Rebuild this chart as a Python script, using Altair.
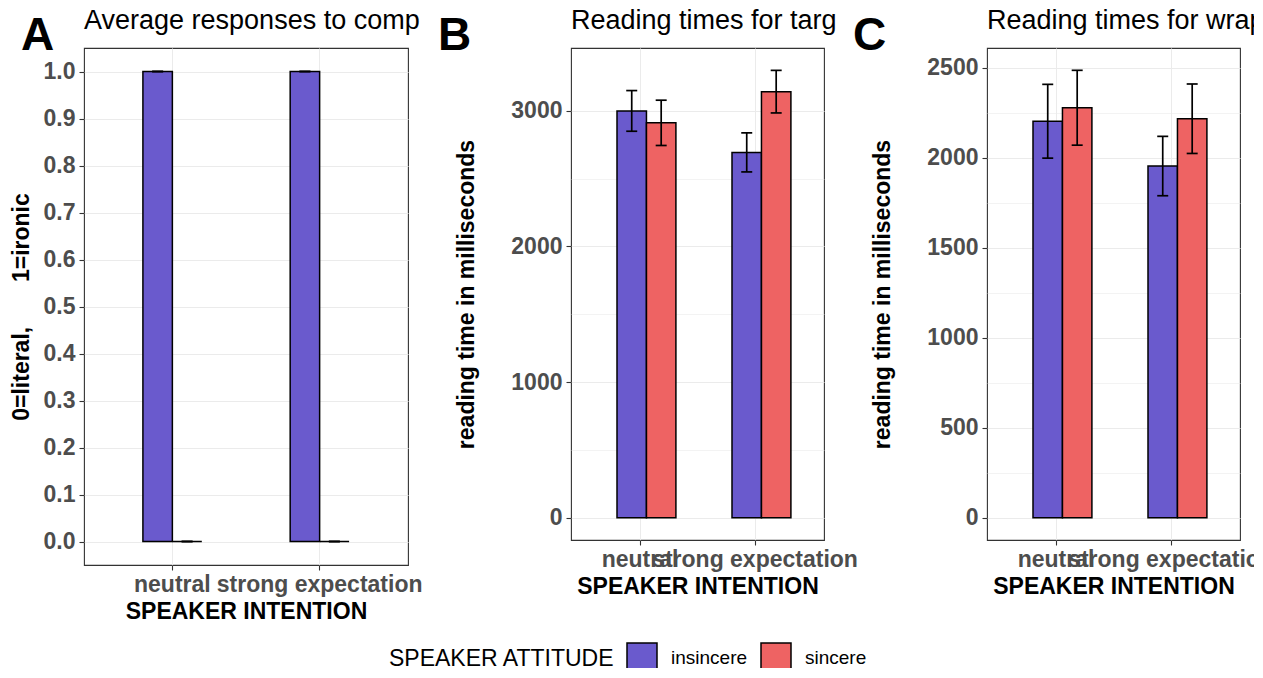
import altair as alt
import pandas as pd

intentions = ["neutral", "strong expectation"]
attitudes = ["insincere", "sincere"]
fill_colors = ["#6A5ACD", "#EE6363"]

# order: neutral/insincere, neutral/sincere, strong/insincere, strong/sincere
a_means = [1.0, 0.0, 1.0, 0.0]
a_errs = [0.0, 0.0, 0.0, 0.0]
b_means = [3000, 2912, 2694, 3142]
b_errs = [150, 167, 144, 157]
c_means = [2203, 2278, 1954, 2217]
c_errs = [205, 208, 165, 193]

a_ticks = [round(i * 0.05, 2) for i in range(21)]
b_ticks = [0, 500, 1000, 1500, 2000, 2500, 3000]
c_ticks = [0, 250, 500, 750, 1000, 1250, 1500, 1750, 2000, 2250, 2500]

FONT = "Liberation Sans"
NB = "\u00a0"


def frame(means, errs):
    rows = []
    i = 0
    for it in intentions:
        for at in attitudes:
            rows.append(dict(intention=it, attitude=at, mean=means[i],
                             lo=means[i] - errs[i], hi=means[i] + errs[i]))
            i += 1
    return pd.DataFrame(rows)


def panel(df, letter, title, ytitle, domain, yvals, major_test, fmt,
          w, h, ytitle_pad, letter_x):
    minor_test = "!(" + major_test + ")"
    x = alt.X("intention:N", sort=intentions, title="SPEAKER INTENTION",
              scale=alt.Scale(paddingInner=0.6, paddingOuter=0.4),
              axis=alt.Axis(labelAngle=0, bandPosition=0.5, labelOverlap=False,
                            labelLimit=0, grid=True, labelPadding=3, titlePadding=4))
    xoff = alt.XOffset("attitude:N", sort=attitudes,
                       scale=alt.Scale(paddingInner=0, paddingOuter=0))
    yaxis = alt.Axis(values=yvals, format=fmt,
                     labelExpr="(" + major_test + ") ? datum.label : ''",
                     tickOpacity={"condition": {"test": minor_test, "value": 0}, "value": 1},
                     gridWidth={"condition": {"test": minor_test, "value": 0.6}, "value": 1.1},
                     titlePadding=ytitle_pad, labelPadding=4)
    yscale = alt.Scale(domain=domain, nice=False)
    color = alt.Color("attitude:N", sort=attitudes,
                      scale=alt.Scale(domain=attitudes, range=fill_colors),
                      legend=alt.Legend(orient="none", legendX=305, legendY=594,
                                        direction="horizontal", title="SPEAKER ATTITUDE",
                                        titleOrient="left", titleFontSize=23,
                                        titleFontWeight="normal", titleFont=FONT,
                                        titleColor="black", titleBaseline="middle",
                                        titlePadding=11, titleLimit=0,
                                        symbolType="square", symbolSize=900,
                                        symbolStrokeColor="black", symbolStrokeWidth=1.5,
                                        symbolOpacity=1, labelLimit=0,
                                        labelFontSize=19, labelFont=FONT, labelColor="black",
                                        labelOffset=13, columnPadding=10))
    bars = alt.Chart(df).mark_bar(stroke="black", strokeWidth=1.5, opacity=1).encode(
        x=x, xOffset=xoff,
        y=alt.Y("mean:Q", scale=yscale, axis=yaxis, title=ytitle),
        y2=alt.datum(0),
        color=color,
    )
    rules = alt.Chart(df).mark_rule(color="black", strokeWidth=1.7).encode(
        x=x, xOffset=xoff, y=alt.Y("lo:Q", scale=yscale), y2="hi:Q")
    cap_hi = alt.Chart(df).mark_tick(color="black", orient="horizontal", size=11,
                                     thickness=1.7, opacity=1).encode(
        x=x, xOffset=xoff, y=alt.Y("hi:Q", scale=yscale))
    cap_lo = alt.Chart(df).mark_tick(color="black", orient="horizontal", size=11,
                                     thickness=1.7, opacity=1).encode(
        x=x, xOffset=xoff, y=alt.Y("lo:Q", scale=yscale))
    txt = pd.DataFrame({"t": [letter, title], "k": ["letter", "title"]})
    lab = alt.Chart(txt).transform_filter("datum.k == 'letter'").mark_text(
        font=FONT, fontSize=46, fontWeight="bold", align="left",
        baseline="alphabetic", color="black").encode(
        text="t:N", x=alt.value(letter_x), y=alt.value(2))
    ttl = alt.Chart(txt).transform_filter("datum.k == 'title'").mark_text(
        font=FONT, fontSize=27, fontWeight="normal", align="left",
        baseline="alphabetic", color="black").encode(
        text="t:N", x=alt.value(0), y=alt.value(-19))
    return alt.layer(bars, rules, cap_hi, cap_lo, lab, ttl).properties(
        width=w, height=h)


pa = panel(frame(a_means, a_errs), "A", "Average responses to comp",
           "0=literal," + NB * 7 + "1=ironic", [-0.05, 1.05], a_ticks,
           "abs(datum.value*10 - round(datum.value*10)) < 0.001", ".1f",
           324, 517, 10, -63)
pb = panel(frame(b_means, b_errs), "B", "Reading times for targ",
           "reading time in milliseconds", [-165, 3464], b_ticks,
           "datum.value % 1000 == 0", "d", 253, 492, 32, -133)
pc = panel(frame(c_means, c_errs), "C", "Reading times for wrap",
           "reading time in milliseconds", [-124, 2610], c_ticks,
           "datum.value % 500 == 0", "d", 253, 492, 32, -134)

chart = alt.hconcat(pa, pb, pc, spacing=163, bounds="flush").properties(
    padding={"left": 1, "top": -2, "right": -20, "bottom": -8},
    background="white",
).configure_view(stroke="#333333", strokeWidth=1.1).configure_axis(
    labelFont=FONT, labelFontSize=23, labelFontWeight="bold", labelColor="#4D4D4D",
    titleFont=FONT, titleFontSize=23, titleFontWeight="bold", titleColor="black",
    tickColor="#333333", tickSize=5, tickWidth=1.1, gridColor="#EBEBEB", domain=False,
)

chart.save("out.html", embed_options={"renderer": "svg", "actions": False})
